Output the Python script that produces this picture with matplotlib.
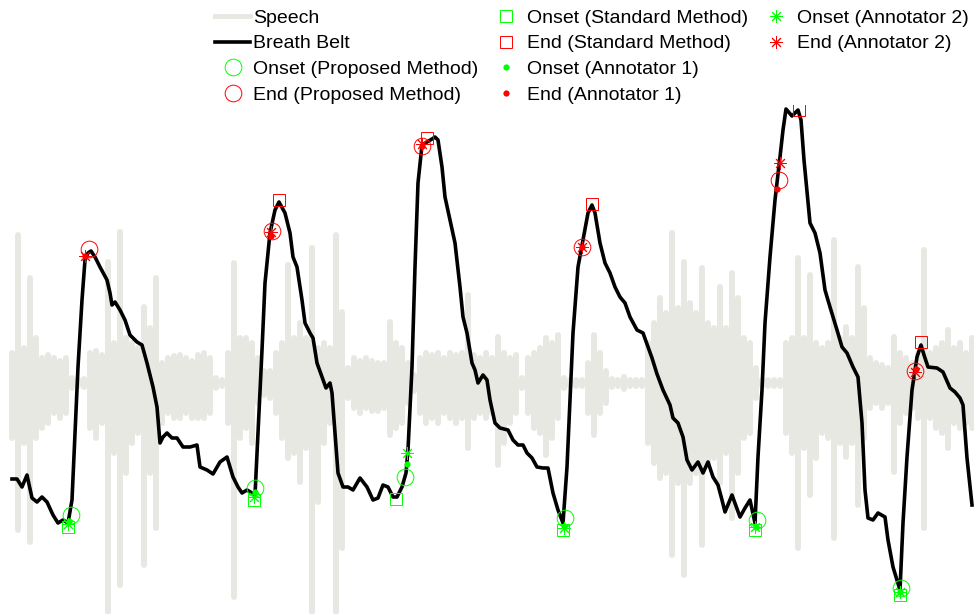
import matplotlib
matplotlib.use("Agg")
import matplotlib.pyplot as plt
from matplotlib.lines import Line2D
import numpy as np

plt.rcParams['font.family'] = ['Liberation Sans', 'DejaVu Sans']

# speech waveform envelope, one (up, down) pair per 6-sample bin, centred on speech_level
speech_level = 231
speech_start = 12
speech_step = 6
speech_up = [30, 148, 35, 105, 45, 25, 28, 25, 22, 25, 5, 3, 4, 30, 32, 28, 121, 40, 151, 45,
             40, 35, 76, 55, 105, 20, 25, 27, 28, 25, 22, 28, 30, 25, 5, 3, 30, 120, 45, 45,
             40, 25, 12, 12, 30, 40, 118, 45, 60, 45, 135, 35, 40, 35, 148, 71, 15, 25, 22, 25,
             22, 20, 20, 61, 40, 35, 20, 8, 25, 30, 28, 30, 25, 30, 28, 30, 88, 28, 25, 30,
             25, 46, 30, 25, 28, 5, 25, 30, 35, 45, 40, 48, 5, 3, 3, 3, 20, 48, 30, 12,
             4, 3, 6, 3, 3, 3, 40, 60, 85, 70, 150, 75, 121, 80, 70, 115, 60, 55, 96, 55,
             110, 85, 45, 40, 15, 3, 3, 3, 3, 40, 45, 125, 45, 108, 40, 35, 40, 143, 45, 56,
             45, 116, 75, 25, 20, 18, 15, 46, 30, 25, 20, 30, 133, 30, 35, 40, 53, 35, 40, 30,
             45]
speech_down = [55, 147, 60, 159, 55, 45, 40, 30, 35, 30, 5, 3, 4, 45, 55, 40, 229, 70, 202, 90,
               60, 50, 182, 90, 145, 40, 30, 35, 35, 30, 35, 35, 35, 30, 5, 3, 40, 214, 55, 45,
               60, 20, 12, 15, 30, 55, 75, 70, 99, 65, 229, 119, 60, 40, 229, 165, 15, 25, 30, 25,
               28, 28, 25, 52, 45, 40, 20, 8, 30, 40, 35, 40, 30, 35, 40, 35, 65, 35, 30, 35,
               30, 82, 60, 40, 30, 5, 30, 45, 50, 72, 55, 35, 5, 3, 3, 3, 30, 52, 30, 20,
               4, 3, 6, 3, 3, 3, 60, 80, 95, 90, 172, 100, 192, 100, 90, 162, 80, 75, 100, 70,
               135, 90, 55, 50, 15, 3, 3, 3, 3, 50, 70, 165, 65, 112, 75, 50, 55, 155, 60, 74,
               60, 122, 55, 25, 20, 25, 20, 89, 40, 30, 25, 35, 145, 35, 45, 50, 65, 40, 45, 40,
               45]

# breath belt signal
belt_t = [12, 17, 22, 27, 32, 37, 42, 47, 53, 58, 63, 68, 72, 75, 78, 82, 85, 88, 91, 95,
          100, 107, 110, 112, 115, 120, 125, 130, 137, 142, 147, 153, 157, 160, 163, 167, 172, 177, 183, 190,
          197, 200, 207, 213, 220, 227, 233, 238, 242, 247, 252, 255, 258, 262, 265, 270, 275, 279, 285, 290,
          293, 297, 302, 305, 310, 313, 317, 322, 326, 330, 332, 335, 338, 343, 348, 353, 360, 367, 373, 378,
          383, 388, 393, 397, 402, 406, 408, 412, 415, 418, 422, 427, 432, 435, 438, 442, 445, 450, 455, 460,
          463, 467, 472, 475, 478, 483, 487, 490, 495, 500, 508, 513, 518, 523, 527, 532, 537, 543, 548, 553,
          558, 563, 567, 570, 573, 578, 583, 588, 592, 595, 600, 605, 610, 615, 620, 625, 630, 637, 643, 648,
          652, 657, 663, 670, 673, 678, 683, 687, 692, 698, 703, 708, 713, 718, 722, 725, 732, 740, 745, 750,
          755, 758, 762, 765, 770, 775, 780, 783, 786, 792, 798, 801, 804, 810, 815, 820, 825, 830, 837, 842,
          847, 853, 858, 862, 865, 868, 873, 878, 885, 888, 893, 897, 900, 903, 907, 912, 917, 921, 924, 928,
          937, 943, 950, 955, 960, 963, 967, 972]
belt = [135, 135, 127, 139, 116, 112, 117, 112, 99, 91, 94, 91, 114, 181, 247, 314, 354, 361, 363, 357,
        347, 334, 321, 309, 312, 304, 294, 279, 272, 269, 251, 227, 207, 171, 177, 181, 176, 176, 167, 167,
        169, 147, 144, 140, 152, 157, 137, 127, 121, 124, 121, 119, 181, 264, 331, 381, 404, 412, 401, 381,
        357, 347, 314, 291, 281, 276, 251, 237, 226, 231, 221, 181, 141, 127, 127, 124, 136, 127, 114, 116,
        129, 127, 117, 117, 127, 141, 164, 247, 347, 431, 469, 472, 475, 477, 474, 447, 417, 394, 371, 327,
        297, 281, 251, 244, 231, 239, 234, 214, 191, 186, 184, 174, 169, 169, 161, 156, 147, 146, 146, 121,
        104, 91, 147, 214, 281, 347, 374, 401, 409, 401, 371, 351, 341, 327, 317, 311, 297, 284, 281, 267,
        256, 240, 224, 209, 196, 191, 177, 154, 144, 152, 141, 152, 137, 129, 114, 102, 119, 97, 106, 114,
        91, 157, 224, 291, 357, 414, 457, 484, 505, 498, 504, 494, 454, 391, 381, 361, 324, 307, 284, 267,
        261, 247, 237, 191, 124, 96, 94, 101, 97, 74, 47, 34, 24, 91, 157, 224, 257, 269, 259, 247,
        246, 242, 226, 222, 216, 209, 156, 109]

# detected onsets / ends (time, belt level) for each method
prop_on_t = [71, 255, 405, 565, 757, 901]
prop_on = [99, 126, 137, 96, 94, 26]
prop_end_t = [89, 272, 422, 582, 779, 915]
prop_end = [365, 383, 468, 367, 434, 243]
std_on_t = [68, 254, 396, 563, 755, 900]
std_on = [87, 114, 115, 84, 84, 19]
std_end_t = [np.nan, 279, 427, 592, 799, 921]
std_end = [np.nan, 414, 476, 410, 504, 272]
ann1_on_t = [69, 255, 407, 564, 756, 900]
ann1_on = [93, 122, 150, 88, 87, 22]
ann1_end_t = [85, 271, 422, 582, 777, 916]
ann1_end = [358, 378, 468, 367, 425, 245]
ann2_on_t = [68, 254, 407, 564, 755, 900]
ann2_on = [90, 117, 161, 86, 87, 22]
ann2_end_t = [85, 271, 422, 582, 780, 915]
ann2_end = [358, 382, 470, 367, 451, 242]

green = (0, 1, 0)
red = (1, 0, 0)
speech_col = '#e8e8e3'
asterisk = (8, 2, 0)

fig = plt.figure(figsize=(9.74, 6.14), dpi=100)
ax = fig.add_axes([0, 0, 1, 509 / 614])

# speech: one vertical stroke per bin
centres = speech_start + speech_step * np.arange(len(speech_up))
strokes = ax.vlines(centres, speech_level - np.array(speech_down),
                    speech_level + np.array(speech_up), colors=speech_col,
                    linewidth=4.3, zorder=1)
strokes.set_capstyle('round')
speech_handle = Line2D([], [], color=speech_col, linewidth=3.5, label='Speech')

belt_line, = ax.plot(belt_t, belt, color='black', linewidth=2.6, solid_joinstyle='round',
                     label='Breath Belt', zorder=2)

mk = dict(linestyle='none', zorder=3)
h_prop_on, = ax.plot(prop_on_t, prop_on, marker='o', ms=12, mfc='none', mec=green, mew=0.7,
                     label='Onset (Proposed Method)', **mk)
h_prop_end, = ax.plot(prop_end_t, prop_end, marker='o', ms=12, mfc='none', mec=red, mew=0.7,
                      label='End (Proposed Method)', **mk)
h_std_on, = ax.plot(std_on_t, std_on, marker='s', ms=9, mfc='none', mec=green, mew=0.7,
                    label='Onset (Standard Method)', **mk)
h_std_end, = ax.plot(std_end_t, std_end, marker='s', ms=9, mfc='none', mec=red, mew=0.7,
                     label='End (Standard Method)', **mk)
h_ann1_on, = ax.plot(ann1_on_t, ann1_on, marker='o', ms=4.5, mfc=green, mec='none',
                     label='Onset (Annotator 1)', **mk)
h_ann1_end, = ax.plot(ann1_end_t, ann1_end, marker='o', ms=4.5, mfc=red, mec='none',
                      label='End (Annotator 1)', **mk)
h_ann2_on, = ax.plot(ann2_on_t, ann2_on, marker=asterisk, ms=9, color=green, mew=0.7,
                     label='Onset (Annotator 2)', **mk)
h_ann2_end, = ax.plot(ann2_end_t, ann2_end, marker=asterisk, ms=9, color=red, mew=0.7,
                      label='End (Annotator 2)', **mk)

ax.set_xlim(0, 974)
ax.set_ylim(0, 509)
ax.axis('off')

# two blank entries so the columns split 4 / 4 / 2
blank = Line2D([], [], linestyle='none')
handles = [speech_handle, belt_line, h_prop_on, h_prop_end,
           h_std_on, h_std_end, h_ann1_on, h_ann1_end,
           h_ann2_on, h_ann2_end, blank, blank]
labels = [h.get_label() for h in handles[:10]] + ['', '']
fig.legend(handles, labels, ncol=3, loc='upper left',
           bbox_to_anchor=(215 / 974, 1 - 9 / 614), frameon=False,
           fontsize=14, borderpad=0, borderaxespad=0, handlelength=1.8,
           handletextpad=0.15, columnspacing=0.55, labelspacing=0.42)

fig.savefig('out.png', dpi=100)
